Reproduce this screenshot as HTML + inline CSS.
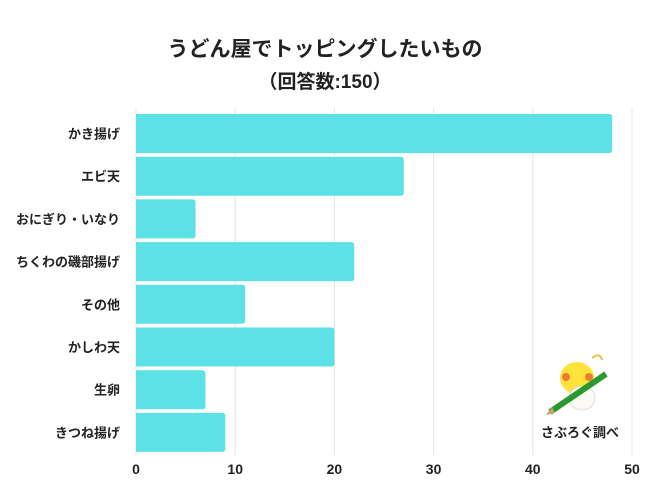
<!DOCTYPE html>
<html><head><meta charset="utf-8">
<style>
body{margin:0;background:#fff;}
svg{display:block;font-family:"Liberation Sans","Noto Sans CJK JP",sans-serif;}
</style></head>
<body>
<svg id="chart" width="650" height="488" viewBox="0 0 650 488">
  <text x="325" y="56" text-anchor="middle" font-size="21" font-weight="bold" fill="#222">うどん屋でトッピングしたいもの</text>
  <text x="325" y="88" text-anchor="middle" font-size="19" font-weight="bold" fill="#222">（回答数:150）</text>
  <g id="grid"></g>
  <g id="bars"></g>
  <g id="ylabels"></g>
  <g id="xlabels"></g>
  <g>
    <ellipse cx="577" cy="378" rx="17" ry="16" fill="#ffe23a"/>
    <ellipse cx="582" cy="398" rx="13" ry="12" fill="#fbfbf3" stroke="#ccc" stroke-width="0.6"/>
    <circle cx="566" cy="377" r="4" fill="#f07a30"/>
    <circle cx="589" cy="377" r="4" fill="#f07a30"/>
    <path d="M592 358 q8 -6 10 2" stroke="#e8c540" stroke-width="2" fill="none"/>
    <line x1="550" y1="412" x2="606" y2="374" stroke="#2a9a30" stroke-width="6"/>
    <polygon points="546,415 552,407 555,413" fill="#c8a070"/>
    <text x="580" y="437" text-anchor="middle" font-size="13" font-weight="bold" fill="#222">さぶろぐ調べ</text>
  </g>
</svg>
<script>
const categories=["かき揚げ","エビ天","おにぎり・いなり","ちくわの磯部揚げ","その他","かしわ天","生卵","きつね揚げ"];
const values=[48,27,6,22,11,20,7,9];
const xTicks=[0,10,20,30,40,50];
const NS="http://www.w3.org/2000/svg";
const x0=136,x1=632,xMax=50,top0=114,step=42.7,bh=39;
const xs=v=>x0+(x1-x0)*v/xMax;
const ys=i=>top0+i*step;
function mk(t,a,p){const e=document.createElementNS(NS,t);for(const k in a)e.setAttribute(k,a[k]);p.appendChild(e);return e;}
const grid=document.getElementById('grid'),bars=document.getElementById('bars'),yl=document.getElementById('ylabels'),xl=document.getElementById('xlabels');
xTicks.forEach(t=>{
  const l=mk('line',{x1:xs(t),x2:xs(t),y1:108,y2:455,stroke:'#e4e4e4','stroke-width':1},grid);
  
  
  const tx=mk('text',{x:xs(t),y:474,'text-anchor':'middle','font-size':14,'font-weight':'bold',fill:'#222'},xl);
  tx.textContent=t;
  
  
});
categories.forEach((c,i)=>{
  const w=xs(values[i])-x0;
  const r=mk('path',{d:`M${x0} ${ys(i)} h${w-3} q3 0 3 3 v${bh-6} q0 3 -3 3 h${-(w-3)} z`,fill:'#5ce1e6'},bars);
  
  
  const t=mk('text',{x:120,y:ys(i)+bh/2+5,'text-anchor':'end','font-size':13,'font-weight':'bold',fill:'#222'},yl);
  t.textContent=c;
  
  
});
</script>
</body></html>
